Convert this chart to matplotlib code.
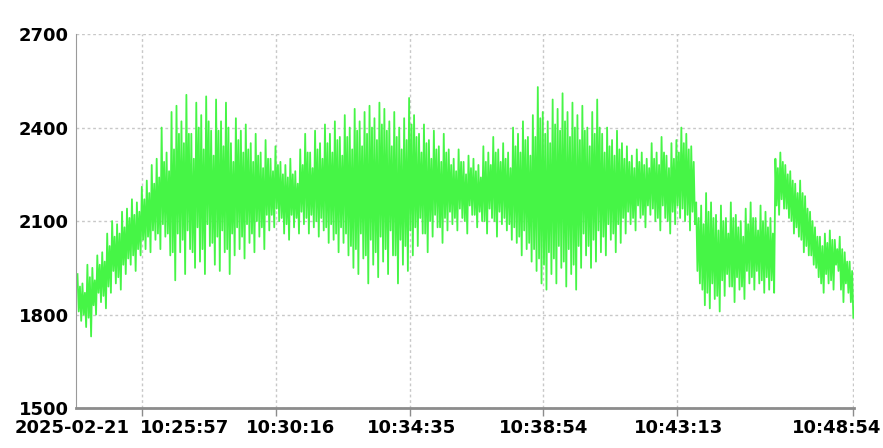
import numpy as np
import pandas as pd
import matplotlib.pyplot as plt
import matplotlib.dates as mdates

# readings: each step is peak, inner low, inner high, trough
peaks = [
    1930, 1900, 1960, 1950, 1990, 2000, 2060, 2100, 2090, 2130, 2140, 2170, 2160,
    2210, 2230, 2280, 2300, 2400, 2320, 2450, 2470,
    2420, 2505, 2380, 2480, 2440, 2500, 2390, 2490, 2420, 2480, 2350, 2430, 2390, 2410, 2350,
    2380, 2320, 2360, 2300, 2340, 2290, 2280, 2300, 2260,
    2330, 2380, 2320, 2390, 2350, 2410, 2380, 2420, 2370,
    2440, 2400, 2460, 2420, 2450, 2470, 2430, 2480, 2460, 2420, 2450, 2400, 2430, 2495,
    2440, 2380, 2410, 2360, 2390, 2340, 2380, 2330,
    2300, 2330, 2290, 2310, 2300, 2280, 2340, 2320, 2370, 2330, 2350, 2320,
    2400, 2380, 2420, 2370, 2440, 2530, 2450, 2420, 2490, 2460, 2510, 2450, 2480, 2440,
    2470, 2400, 2450, 2490, 2380, 2400, 2360, 2390, 2350,
    2340, 2310, 2330, 2320, 2300, 2350, 2320, 2370, 2310, 2350, 2360, 2400, 2380, 2340,
    2160, 2150, 2190, 2160, 2120, 2150, 2110, 2160, 2120, 2100, 2140, 2160, 2110, 2150, 2130, 2110,
    2300, 2320, 2280, 2260, 2220, 2230, 2180, 2130,
    2080, 2050, 2060, 2070, 2040, 2050, 2000, 1970,
]
inner_lo = [
    1810, 1800, 1790, 1830, 1870, 1860, 1890, 1940, 1920, 1960, 1980, 1990, 2010,
    2040, 2050, 2070, 2060, 2090, 2060, 2000, 2060,
    2040, 2070, 2000, 2080, 2010, 2090, 2030, 2050, 2070, 2010, 2060, 2080, 2050, 2090, 2060,
    2100, 2080, 2120, 2120, 2140, 2110, 2090, 2120, 2110,
    2130, 2110, 2120, 2100, 2110, 2080, 2090, 2060, 2080,
    2060, 2020, 2010, 2060, 1990, 2040, 2000, 2050, 2010, 2070, 1990, 2040, 2020, 2070,
    2080, 2110, 2060, 2100, 2120, 2080, 2110, 2130,
    2110, 2140, 2100, 2150, 2120, 2130, 2100, 2140, 2100, 2130, 2110, 2090,
    2080, 2050, 2070, 2030, 2010, 1980, 1960, 2000, 1980, 2020, 1970, 2010, 1960, 2020,
    2060, 2020, 2040, 2070, 2050, 2090, 2060, 2090, 2110,
    2130, 2110, 2150, 2120, 2150, 2140, 2110, 2150, 2100, 2130, 2150, 2140, 2120, 2130,
    1940, 1880, 1870, 1900, 1860, 1910, 1930, 1890, 1920, 1890, 1940, 1920, 1940, 1910, 1920, 1910,
    2150, 2170, 2140, 2100, 2080, 2040, 2020, 1990,
    1950, 1900, 1930, 1910, 1960, 1880, 1900, 1840,
]
inner_hi = [
    1890, 1870, 1920, 1910, 1960, 1970, 2020, 2050, 2060, 2080, 2110, 2120, 2130,
    2170, 2190, 2220, 2240, 2290, 2260, 2330, 2380,
    2350, 2380, 2300, 2400, 2330, 2420, 2310, 2390, 2340, 2400, 2290, 2360, 2320, 2330, 2290,
    2310, 2270, 2300, 2260, 2280, 2250, 2240, 2250, 2220,
    2280, 2320, 2270, 2330, 2300, 2350, 2320, 2360, 2310,
    2370, 2330, 2390, 2340, 2380, 2400, 2360, 2410, 2390, 2340, 2370, 2330, 2360, 2410,
    2370, 2320, 2350, 2300, 2330, 2290, 2320, 2280,
    2260, 2290, 2250, 2270, 2260, 2240, 2290, 2280, 2320, 2290, 2300, 2270,
    2340, 2320, 2360, 2310, 2370, 2430, 2380, 2350, 2410, 2390, 2420, 2370, 2400, 2360,
    2390, 2340, 2380, 2400, 2320, 2340, 2310, 2330, 2300,
    2290, 2270, 2290, 2280, 2270, 2300, 2280, 2320, 2270, 2300, 2320, 2350, 2330, 2290,
    2110, 2090, 2130, 2110, 2070, 2100, 2060, 2110, 2080, 2050, 2090, 2110, 2070, 2100, 2080, 2060,
    2270, 2290, 2250, 2230, 2190, 2190, 2140, 2100,
    2050, 2020, 2030, 2040, 2010, 2010, 1970, 1940,
]
troughs = [
    1780, 1760, 1730, 1800, 1840, 1820, 1870, 1900, 1880, 1930, 1960, 1940, 1990,
    2010, 2000, 2040, 2010, 2050, 1990, 1910, 2000,
    1930, 2010, 1950, 1970, 1930, 2020, 1960, 1940, 2000, 1930, 1990, 2010, 1980, 2030, 2000,
    2050, 2010, 2070, 2080, 2100, 2060, 2040, 2080, 2060,
    2090, 2060, 2080, 2050, 2070, 2030, 2040, 2000, 2030,
    1990, 1950, 1930, 1980, 1900, 1960, 1920, 1970, 1930, 1990, 1900, 1960, 1940, 1990,
    2020, 2060, 2000, 2050, 2080, 2030, 2070, 2090,
    2070, 2110, 2060, 2120, 2080, 2100, 2060, 2110, 2050, 2090, 2070, 2040,
    2030, 1990, 2010, 1970, 1940, 1900, 1880, 1930, 1900, 1950, 1890, 1930, 1880, 1950,
    1990, 1950, 1970, 2000, 1990, 2040, 2000, 2030, 2060,
    2090, 2070, 2110, 2080, 2120, 2100, 2070, 2110, 2060, 2090, 2110, 2100, 2070, 2090,
    1900, 1830, 1820, 1850, 1810, 1860, 1890, 1840, 1880, 1850, 1900, 1880, 1900, 1870, 1880, 1870,
    2120, 2140, 2110, 2060, 2050, 2000, 1990, 1960,
    1920, 1870, 1900, 1880, 1940, 1840, 1870, 1790,
]

t_start = "2025-02-21 10:23:52"
t_end = "2025-02-21 10:48:54"
tick_times = ["10:25:57", "10:30:16", "10:34:35", "10:38:54", "10:43:13", "10:48:54"]
y_ticks = [1500, 1800, 2100, 2400, 2700]

values = np.column_stack([peaks, inner_lo, inner_hi, troughs]).ravel()
times = pd.date_range(t_start, t_end, periods=len(values))

plt.rcParams['font.family'] = ['DejaVu Sans']

fig = plt.figure(figsize=(8.83, 4.48), dpi=100)
ax = fig.add_axes([0.086, 0.089, 0.881, 0.835])

ax.plot(times, values, color='#46f546', linewidth=1.3)

day = pd.Timestamp("2025-02-21")
tick_pos = [day + pd.Timedelta(t) for t in tick_times]
ax.set_xlim(pd.Timestamp("2025-02-21 10:23:49"), pd.Timestamp("2025-02-21 10:48:55"))
ax.set_ylim(1500, 2700)
ax.set_yticks(y_ticks)
ax.set_xticks(tick_pos)
ax.set_xticklabels([])

ax.grid(True, color='#c8c8c8', linestyle=(0, (2, 2)), linewidth=1)
for s in ['top', 'right']:
    ax.spines[s].set_visible(False)
ax.spines['left'].set_color('#9a9a9a')
ax.spines['bottom'].set_color('#8c8c8c')
ax.spines['bottom'].set_linewidth(2)
ax.tick_params(axis='y', length=0, pad=5, labelsize=13)
ax.tick_params(axis='x', length=6, color='#8c8c8c', width=1)
for lab in ax.get_yticklabels():
    lab.set_fontweight('bold')

# x labels, nudged sideways like the original to avoid overlap
labels = ["2025-02-21"] + tick_times
anchors = [pd.Timestamp("2025-02-21 10:23:49")] + tick_pos
shifts = [-4, 43, 15, 2, 0, 1, -17]
for lab, pos, dx in zip(labels, anchors, shifts):
    ax.annotate(lab, xy=(mdates.date2num(pos), 0), xycoords=('data', 'axes fraction'),
                xytext=(dx * 0.72, -8), textcoords='offset points',
                ha='center', va='top', fontsize=13, fontweight='bold')

fig.savefig("out.png", dpi=100)
